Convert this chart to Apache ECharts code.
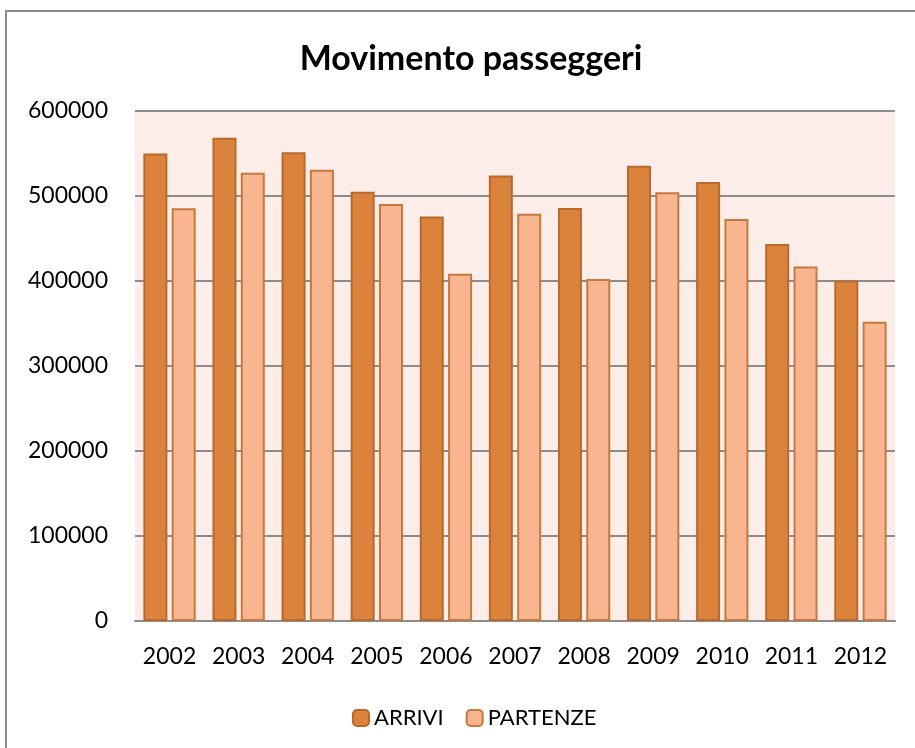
<!DOCTYPE html>
<html>
<head>
<meta charset="utf-8">
<script src="https://cdn.jsdelivr.net/npm/echarts@6/dist/echarts.min.js"></script>
<style>
    html, body { margin: 0; padding: 0; background: #ffffff; }
    #chart { width: 915px; height: 748px; }
</style>
</head>
<body>
<div id="chart"></div>
<script>
// Data
const years = ['2002', '2003', '2004', '2005', '2006', '2007', '2008', '2009', '2010', '2011', '2012'];
const arrivi = [550000, 568500, 551500, 505000, 476000, 524000, 486000, 535500, 516500, 443500, 400500];
const partenze = [485500, 527500, 531000, 490500, 408500, 479000, 402500, 504500, 473000, 417000, 352000];
const yTicks = [0, 100000, 200000, 300000, 400000, 500000, 600000];

const font = 'Lato, "Open Sans", sans-serif';

const chart = echarts.init(document.getElementById('chart'));

const options = {
    backgroundColor: '#ffffff',
    animation: false,
    title: {
        text: 'Movimento passeggeri',
        left: 466,
        top: 37,
        textAlign: 'center',
        textStyle: {
            fontFamily: font,
            fontWeight: 'bold',
            fontSize: 34,
            color: '#000000'
        }
    },
    graphic: [
        {
            type: 'rect',
            shape: { x: 6, y: 11, width: 940, height: 780 },
            style: { fill: 'none', stroke: '#8c8c8c', lineWidth: 2 },
            silent: true,
            z: 100
        }
    ],
    legend: {
        data: ['ARRIVI', 'PARTENZE'],
        left: 347,
        top: 702,
        itemWidth: 16,
        itemHeight: 16,
        itemGap: 22,
        textStyle: {
            fontFamily: font,
            fontSize: 22,
            color: '#000000'
        }
    },
    grid: {
        left: 135,
        right: 20,
        top: 111,
        bottom: 127,
        show: true,
        backgroundColor: '#fcede8',
        borderWidth: 0
    },
    xAxis: {
        type: 'category',
        data: years,
        axisTick: { show: false },
        axisLine: { lineStyle: { color: '#8c8c8c', width: 2 } },
        axisLabel: {
            interval: 0,
            fontFamily: font,
            fontSize: 23,
            color: '#000000',
            margin: 24
        }
    },
    yAxis: {
        type: 'value',
        min: yTicks[0],
        max: yTicks[yTicks.length - 1],
        interval: 100000,
        axisLine: { show: false },
        axisTick: { show: false },
        splitLine: { lineStyle: { color: '#8c8c8c', width: 2 } },
        axisLabel: {
            fontFamily: font,
            fontSize: 23,
            color: '#000000',
            margin: 27,
            formatter: (value) => String(value)
        }
    },
    series: [
        {
            name: 'ARRIVI',
            type: 'bar',
            data: arrivi,
            barWidth: 24,
            barGap: '18%',
            itemStyle: {
                color: '#db833d',
                borderColor: '#b86a2c',
                borderWidth: 2
            }
        },
        {
            name: 'PARTENZE',
            type: 'bar',
            data: partenze,
            barWidth: 24,
            itemStyle: {
                color: '#f9b58f',
                borderColor: '#c47a3e',
                borderWidth: 2
            }
        }
    ]
};

chart.setOption(options);
</script>
</body>
</html>
